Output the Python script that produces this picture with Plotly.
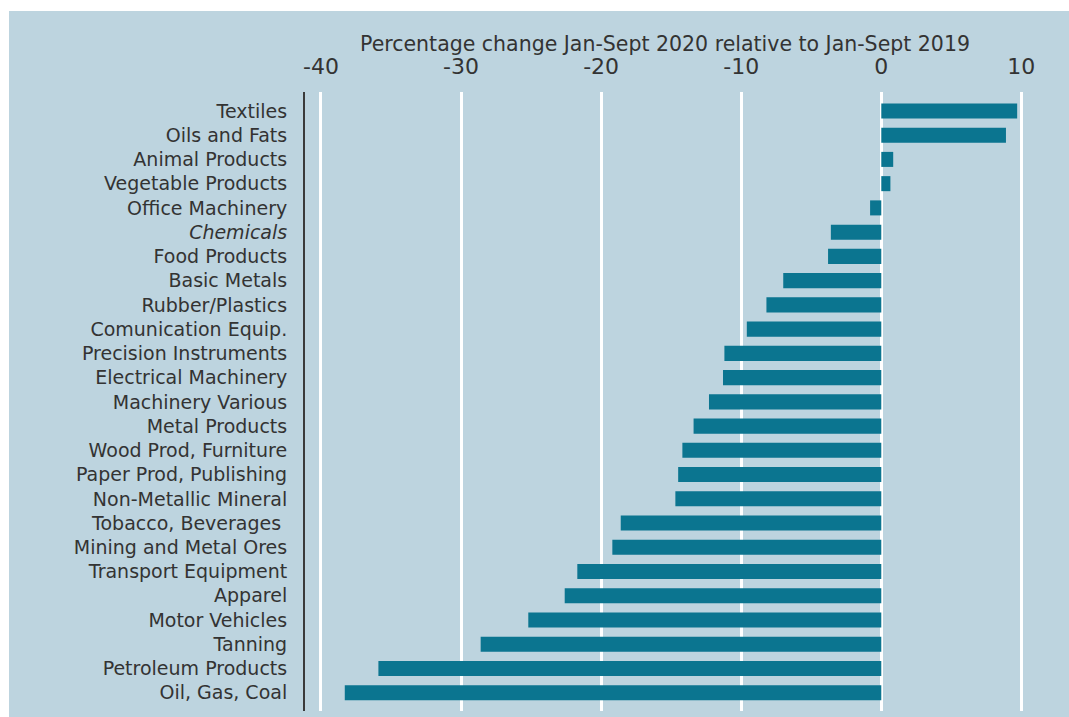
import plotly.graph_objects as go

categories = [
    "Textiles", "Oils and Fats", "Animal Products", "Vegetable Products",
    "Office Machinery", "<i>Chemicals</i>", "Food Products", "Basic Metals",
    "Rubber/Plastics", "Comunication Equip.", "Precision Instruments",
    "Electrical Machinery", "Machinery Various", "Metal Products",
    "Wood Prod, Furniture", "Paper Prod, Publishing", "Non-Metallic Mineral",
    "Tobacco, Beverages\u00a0", "Mining and Metal Ores", "Transport Equipment",
    "Apparel", "Motor Vehicles", "Tanning", "Petroleum Products", "Oil, Gas, Coal",
]
values = [
    9.7, 8.9, 0.85, 0.65, -0.8, -3.6, -3.8, -7.0, -8.2, -9.6, -11.2, -11.3,
    -12.3, -13.4, -14.2, -14.5, -14.7, -18.6, -19.2, -21.7, -22.6, -25.2,
    -28.6, -35.9, -38.3,
]
tick_vals = [-40, -30, -20, -10, 0, 10]
tick_text = ["-40", "-30", "-20", "-10", "0", "10"]
axis_title = "Percentage change Jan-Sept 2020 relative to Jan-Sept 2019"

BG = "#BDD4DF"
BAR = "#0B7590"
TXT = "#333333"
FONT = "DejaVu Sans"

fig = go.Figure(go.Bar(
    x=values, y=list(range(len(categories))), orientation="h",
    marker=dict(color=BAR, line=dict(width=0)), width=0.62,
))

W, H = 1069, 717
L, R, T, B = 305, 0, 92, 6
pw, ph = W - L - R, H - T - B

def px_x(px):
    return (px - L) / pw

def px_y(py):
    return (H - B - py) / ph

fig.update_layout(
    width=W, height=H,
    margin=dict(l=L, r=R, t=T, b=B, pad=0),
    paper_bgcolor="white", plot_bgcolor=BG,
    showlegend=False,
    font=dict(family=FONT, color=TXT),
    xaxis=dict(
        side="top", range=[-41.14, 13.4], tickvals=tick_vals, ticktext=tick_text,
        showgrid=True, gridcolor="white", gridwidth=2.5, zeroline=False,
        showline=False, ticks="", tickfont=dict(size=22, color=TXT),
        ticklabelstandoff=13,
    ),
    yaxis=dict(
        tickvals=list(range(len(categories))), ticktext=categories,
        range=[24.75, -0.78], showgrid=False, zeroline=False,
        showline=True, linecolor="#3a3a3a", linewidth=2,
        ticks="", tickfont=dict(size=19, color=TXT), ticklabelstandoff=12,
    ),
    shapes=[dict(
        type="rect", xref="paper", yref="paper", layer="below",
        x0=px_x(9), x1=1.02, y0=-0.05, y1=px_y(11),
        fillcolor=BG, line=dict(width=0),
    )],
    annotations=[dict(
        text=axis_title, xref="paper", yref="paper",
        x=px_x(665), y=px_y(44), xanchor="center", yanchor="middle",
        showarrow=False, font=dict(size=20.5, color=TXT, family=FONT),
    )],
)

fig.write_html(
    "out.html",
    config={"displayModeBar": False},
    post_script=(
        "document.body.style.margin='0';"
        "document.documentElement.style.overflow='hidden';"
        "document.body.style.overflow='hidden';"
    ),
)
